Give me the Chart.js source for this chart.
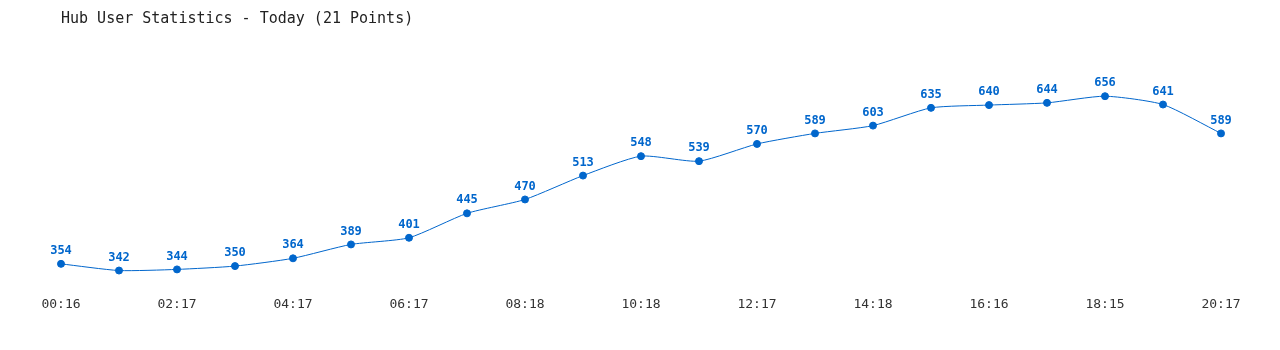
<!DOCTYPE html>
<html>
<head>
<meta charset="utf-8">
<script src="https://cdn.jsdelivr.net/npm/chart.js@4"></script>
<style>
  html, body { margin: 0; padding: 0; background: #fff; }
  #wrap { width: 1280px; height: 350px; }
</style>
</head>
<body>
<div id="wrap"><canvas id="hubChart"></canvas></div>
<script>
// chart data
const timeLabels = [
  "00:16", "01:16", "02:17", "03:17", "04:17", "05:17", "06:17",
  "07:18", "08:18", "09:18", "10:18", "11:17", "12:17", "13:18",
  "14:18", "15:17", "16:16", "17:16", "18:15", "19:16", "20:17"
];

const userCounts = [
  354, 342, 344, 350, 364, 389, 401, 445, 470, 513, 548,
  539, 570, 589, 603, 635, 640, 644, 656, 641, 589
];

const lineColor = "#0066cc";
const monoFont = "'DejaVu Sans Mono', 'Liberation Mono', monospace";

// draws the value above each point
const valueLabels = {
  id: "valueLabels",
  afterDatasetsDraw(chart) {
    const ctx = chart.ctx;
    const meta = chart.getDatasetMeta(0);
    ctx.save();
    ctx.fillStyle = lineColor;
    ctx.font = "bold 12px " + monoFont;
    ctx.textAlign = "center";
    ctx.textBaseline = "bottom";
    meta.data.forEach((pt, i) => {
      ctx.fillText(String(userCounts[i]), pt.x, pt.y - 7);
    });
    ctx.restore();
  }
};

new Chart(
  document.getElementById("hubChart"),
  {
    type: "line",
    data: {
      labels: timeLabels,
      datasets: [
        {
          label: "Users",
          data: userCounts,
          borderColor: lineColor,
          backgroundColor: lineColor,
          borderWidth: 1,
          pointRadius: 3.5,
          pointHoverRadius: 3.5,
          tension: 0.2,
          fill: false
        }
      ]
    },
    options: {
      responsive: true,
      maintainAspectRatio: false,
      animation: false,
      layout: {
        padding: { left: 61, right: 59, top: 0, bottom: 26 }
      },
      plugins: {
        legend: { display: false },
        tooltip: { enabled: false },
        title: {
          display: true,
          text: "Hub User Statistics - Today (21 Points)",
          align: "start",
          color: "#222",
          font: { family: monoFont, size: 15, weight: "normal" },
          padding: { top: 10, bottom: 36 }
        }
      },
      scales: {
        x: {
          offset: false,
          grid: { display: false, drawTicks: false },
          border: { display: false },
          ticks: {
            autoSkip: false,
            maxRotation: 0,
            color: "#333",
            font: { family: monoFont, size: 13 },
            padding: 12,
            callback: function(value, index) {
              return index % 2 === 0 ? timeLabels[index] : "";
            }
          }
        },
        y: {
          display: false,
          min: 317,
          max: 714
        }
      }
    },
    plugins: [valueLabels]
  }
);
</script>
</body>
</html>
